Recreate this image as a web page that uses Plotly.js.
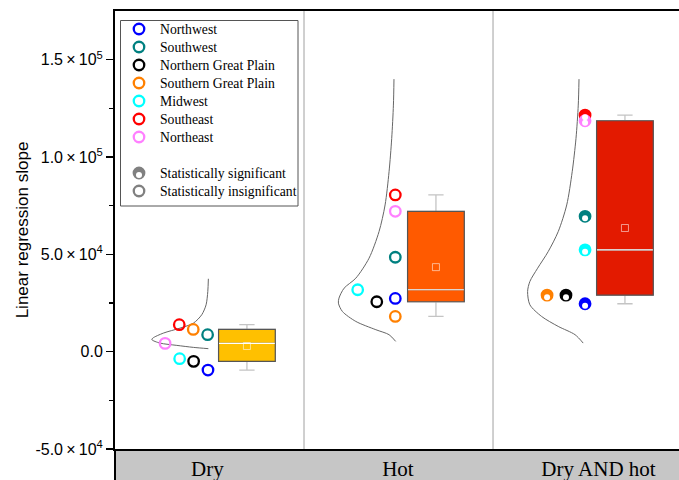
<!DOCTYPE html>
<html><head><meta charset="utf-8">
<script src="https://cdn.plot.ly/plotly-3.0.1.min.js"></script>
<style>html,body{margin:0;padding:0;background:#fff;}#chart{width:679px;height:480px;}</style>
</head><body><div id="chart"></div>
<script>
// ---------- data ----------
const categories = ['Dry', 'Hot', 'Dry AND hot'];
const regions = ['Northwest', 'Southwest', 'Northern Great Plain', 'Southern Great Plain', 'Midwest', 'Southeast', 'Northeast'];
const dryValues    = [-9435, 8718, -4974, 11435, -3590, 13846, 4256];
const hotValues    = [27332, 48510, 25640, 18102, 31794, 80510, 72100];
const dryHotValues = [24610, 69540, 29030, 29030, 52300, 121500, 118610];
const significantByCategory = [false, false, true];
const legendSigLabels = ['Statistically significant', 'Statistically insignificant'];
const yTickVals = [-50000, 0, 50000, 100000, 150000];
const yTickText = ['-5.0\u2009\u00d7\u200910<sup>4</sup>', '0.0', '5.0\u2009\u00d7\u200910<sup>4</sup>', '1.0\u2009\u00d7\u200910<sup>5</sup>', '1.5\u2009\u00d7\u200910<sup>5</sup>'];
const yMinorVals = [-25000, 25000, 75000, 125000];
// distribution curves (value, relative density width)
const dryCurveY = [37435, 30920, 24100, 18970, 14670, 12100, 9540, 6970, 6150, 4410, 3230, 2200, 1540];
const dryCurveW = [0, 0.003, 0.012, 0.035, 0.079, 0.150, 0.238, 0.294, 0.299, 0.256, 0.167, 0.079, 0];
const hotCurveY = [140000, 126660, 109530, 92460, 75380, 61690, 48000, 37740, 32610, 27490, 24920, 20670, 15540, 11280, 8720, 5280];
const hotCurveW = [0.011, 0.014, 0.023, 0.037, 0.058, 0.090, 0.143, 0.213, 0.275, 0.302, 0.305, 0.284, 0.213, 0.107, 0.037, 0.002];
const dryHotCurveY = [140000, 126660, 109530, 92460, 75380, 61690, 51430, 42870, 36050, 30920, 24100, 18100, 12970, 8720, 4410];
const dryHotCurveW = [0.005, 0.009, 0.021, 0.041, 0.070, 0.115, 0.168, 0.224, 0.265, 0.277, 0.265, 0.203, 0.115, 0.026, -0.017];

// ---------- styles / layout helpers ----------
const regionColors = ['#0000ff', '#008080', '#000000', '#ff8000', '#00ffff', '#ff0000', '#ff80ff'];
const sigColor = '#808080';
const boxColors = ['#ffc000', '#ff5a00', '#e31a00'];
const pointOffsets = [
  [0.492, 0.490, 0.416, 0.414, 0.342, 0.340, 0.265],
  [0.483, 0.483, 0.385, 0.483, 0.284, 0.483, 0.483],
  [0.487, 0.487, 0.386, 0.286, 0.487, 0.487, 0.487]
];
const labelPos = [0.489, 1.497, 2.558];
const curveBase = [0.494, 0.487, 0.460];
const boxCenter = 0.698, boxWidth = 0.30;
const serif = 'Liberation Serif, Times New Roman, serif';
const sans = 'Liberation Sans, Arial, sans-serif';
const mk = {size: 10.5, lw: 2.3};

const valuesByCat = [dryValues, hotValues, dryHotValues];
const curvesY = [dryCurveY, hotCurveY, dryHotCurveY];
const curvesW = [dryCurveW, hotCurveW, dryHotCurveW];

function med(a) { const s = [...a].sort((p, q) => p - q); const n = s.length; return n % 2 ? s[(n - 1) / 2] : (s[n / 2 - 1] + s[n / 2]) / 2; }
function quart(a) {
  const s = [...a].sort((p, q) => p - q); const n = s.length;
  return [med(s.slice(0, Math.floor(n / 2))), med(s), med(s.slice(Math.ceil(n / 2)))];
}
function mean(a) { return a.reduce((p, q) => p + q, 0) / a.length; }
const highlight = (x, y, xa, ya) => ({type: 'scatter', mode: 'markers', x: x, y: y, xaxis: xa, yaxis: ya,
  marker: {symbol: 'circle', size: 6, color: '#ffffff', standoff: 2, angle: 0, line: {width: 0}}, showlegend: false, hoverinfo: 'skip'});

const traces = [];
// distribution curves
curvesY.forEach((ys, c) => {
  traces.push({type: 'scatter', mode: 'lines', x: curvesW[c].map(w => c + curveBase[c] - w), y: ys,
    line: {color: '#666666', width: 1, shape: 'spline', smoothing: 0.8}, showlegend: false, hoverinfo: 'skip'});
});
// boxes
valuesByCat.forEach((vals, c) => {
  const pos = c + boxCenter;
  const [q1, m, q3] = quart(vals);
  traces.push({type: 'box', y: vals, x0: pos, width: boxWidth, quartilemethod: 'exclusive', boxpoints: false,
    line: {color: '#c4c4c4', width: 1.3}, fillcolor: 'rgba(0,0,0,0)', whiskerwidth: 0.27, showlegend: false, hoverinfo: 'skip'});
  traces.push({type: 'box', x: [pos], q1: [q1], median: [m], q3: [q3], lowerfence: [q1], upperfence: [q3], width: boxWidth,
    line: {color: '#555555', width: 1.2}, fillcolor: boxColors[c], whiskerwidth: 0, showlegend: false, hoverinfo: 'skip'});
  traces.push({type: 'box', x: [pos], q1: [m], median: [m], q3: [m], lowerfence: [m], upperfence: [m], width: boxWidth * 0.985,
    line: {color: '#ffffff', width: 1.2}, fillcolor: 'rgba(0,0,0,0)', whiskerwidth: 0, showlegend: false, hoverinfo: 'skip'});
  traces.push({type: 'scatter', mode: 'markers', x: [pos], y: [mean(vals)],
    marker: {symbol: 'square-open', size: 7, color: 'rgba(255,255,255,0.55)', line: {width: 1}}, showlegend: false, hoverinfo: 'skip'});
});
// region points
regions.forEach((r, i) => {
  traces.push({type: 'scatter', mode: 'markers', name: r, showlegend: false,
    x: valuesByCat.map((v, c) => c + pointOffsets[c][i]), y: valuesByCat.map(v => v[i]),
    marker: {symbol: significantByCategory.map(s => s ? 'circle' : 'circle-open'), size: mk.size, color: regionColors[i],
      line: {color: regionColors[i], width: mk.lw}}});
});
valuesByCat.forEach((vals, c) => {
  if (!significantByCategory[c]) return;
  traces.push(highlight(vals.map((v, i) => c + pointOffsets[c][i]), vals, 'x', 'y'));
});

// ---------- legend (drawn on an overlay pixel-frame axis) ----------
const legX = 139, legTextX = 158, legY0 = 29, legStep = 18;
const legRows = regions.map((r, i) => legY0 + legStep * i);
const sigRows = [legY0 + legStep * 8, legY0 + legStep * 9];
traces.push({type: 'scatter', mode: 'markers', xaxis: 'x2', yaxis: 'y2', showlegend: false, hoverinfo: 'skip',
  x: legRows.map(() => legX), y: legRows,
  marker: {symbol: 'circle-open', size: mk.size, color: regionColors, line: {width: mk.lw}}});
traces.push({type: 'scatter', mode: 'markers', xaxis: 'x2', yaxis: 'y2', showlegend: false, hoverinfo: 'skip',
  x: [legX, legX], y: sigRows,
  marker: {symbol: ['circle', 'circle-open'], size: mk.size, color: sigColor, line: {color: sigColor, width: mk.lw}}});
traces.push(highlight([legX], [sigRows[0]], 'x2', 'y2'));

const annotations = regions.concat(legendSigLabels).map((t, i) => ({
  xref: 'x2', yref: 'y2', x: legTextX, y: i < 7 ? legRows[i] : sigRows[i - 7], text: t, showarrow: false,
  xanchor: 'left', yanchor: 'middle', font: {family: serif, size: 13.7, color: '#000'}
}));

const plotH = 480 - 11 - 31;
const layout = {
  width: 679, height: 480,
  margin: {l: 115, r: 0, t: 11, b: 31},
  paper_bgcolor: '#ffffff', plot_bgcolor: '#ffffff',
  boxmode: 'overlay',
  showlegend: false,
  xaxis: {range: [0, 2.984], tickmode: 'array', tickvals: labelPos, ticktext: categories, ticks: '',
    tickfont: {family: serif, size: 21, color: '#000'}, showgrid: false, zeroline: false,
    showline: true, linecolor: '#000', linewidth: 2, mirror: true, ticklabelstandoff: 0, fixedrange: true},
  yaxis: {range: [-50000, 175000], tickmode: 'array', tickvals: yTickVals, ticktext: yTickText, ticks: 'outside', ticklen: 7, tickwidth: 1.3, tickcolor: '#000',
    minor: {tickmode: 'array', tickvals: yMinorVals, ticks: 'outside', ticklen: 4, tickwidth: 1.3, tickcolor: '#000', showgrid: false},
    tickfont: {family: sans, size: 16, color: '#000'}, showgrid: false, zeroline: false,
    showline: true, linecolor: '#000', linewidth: 2,
    title: {text: 'Linear regression slope', font: {family: sans, size: 17, color: '#000'}, standoff: 2}},
  xaxis2: {overlaying: 'x', range: [115, 679], visible: false, fixedrange: true},
  yaxis2: {overlaying: 'y', range: [449, 11], visible: false, fixedrange: true},
  annotations: annotations,
  shapes: [
    {type: 'rect', xref: 'paper', yref: 'paper', x0: 0, x1: 1.01, y0: -31 / plotH, y1: 0, fillcolor: '#c6c6c6', line: {width: 0}, layer: 'below'},
    {type: 'line', xref: 'paper', yref: 'paper', x0: 0, x1: 0, y0: -31 / plotH, y1: 0, line: {color: '#000', width: 2}},
    {type: 'line', xref: 'x', yref: 'paper', x0: 1, x1: 1, y0: 0, y1: 1, line: {color: '#c0c0c0', width: 1.5}, layer: 'below'},
    {type: 'line', xref: 'x', yref: 'paper', x0: 2, x1: 2, y0: 0, y1: 1, line: {color: '#c0c0c0', width: 1.5}, layer: 'below'},
    {type: 'rect', xref: 'x2', yref: 'y2', x0: 120.5, x1: 298, y0: 20.5, y1: 206, fillcolor: '#ffffff', line: {color: '#555555', width: 1}, layer: 'below'}
  ]
};
Plotly.newPlot('chart', traces, layout, {displayModeBar: false, staticPlot: true});
</script></body></html>
